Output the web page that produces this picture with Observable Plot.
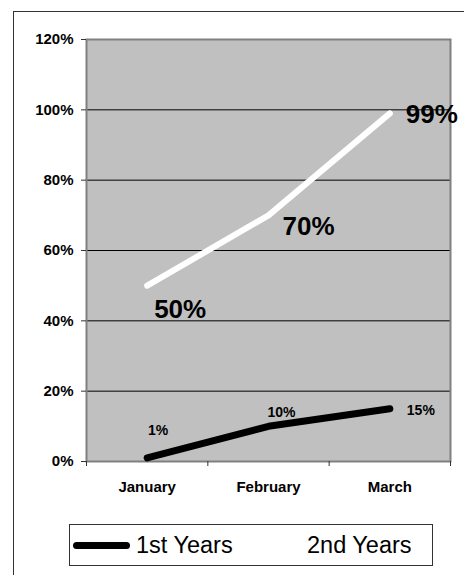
<!DOCTYPE html>
<html>
<head>
<meta charset="utf-8">
<script src="https://cdn.jsdelivr.net/npm/d3@7"></script>
<script src="https://cdn.jsdelivr.net/npm/@observablehq/plot@0.6"></script>
<style>
  html, body { margin: 0; padding: 0; background: #fff; overflow: hidden; width: 464px; height: 575px; }
  #wrap { position: relative; width: 464px; height: 575px; overflow: hidden; font-family: "Liberation Sans", Arial, sans-serif; }
  #frame { position: absolute; left: 13px; top: 11px; width: 451px; height: 1px; background: #333; }
  #frameL { position: absolute; left: 13px; top: 11px; width: 1px; height: 564px; background: #333; }
  #chart { position: absolute; left: 0; top: 0; width: 464px; height: 505px; overflow: hidden; }
  #chart svg { background: transparent; display: block; }
  #legend { position: absolute; left: 69px; top: 524px; width: 364px; height: 42px; border: 1px solid #333; box-sizing: border-box; background: #fff; }
  .item { position: absolute; top: 0; height: 40px; display: flex; align-items: center; font-size: 23.5px; color: #000; white-space: nowrap; }
  .sw { display: inline-block; width: 57px; height: 7px; border-radius: 4px; margin-right: 6px; }
</style>
</head>
<body>
<div id="wrap">
  <div id="frame"></div>
  <div id="frameL"></div>
  <div id="chart"></div>
  <div id="legend"></div>
</div>
<script>
const months = ["January", "February", "March"];
const firstYears = [0.01, 0.10, 0.15];
const secondYears = [0.50, 0.70, 0.99];
const yTicks = [0, 0.2, 0.4, 0.6, 0.8, 1.0, 1.2];
const gridValues = [0.2, 0.4, 0.6, 0.8, 1.0];
const seriesNames = ["1st Years", "2nd Years"];
const seriesColors = ["#000000", "#ffffff"];

const rows = months.map((m, i) => ({ month: m, pos: i + 0.5, first: firstYears[i], second: secondYears[i] }));
const pct = d3.format(".0%");

// label offsets (style only)
const firstOffsets = [[11, -27], [13, -14], [31, 2]];
const secondOffsets = [[33, 24], [40, 11], [42, 1]];

const labelMarks = [];
rows.forEach((r, i) => {
  labelMarks.push(Plot.text([r], { x: "pos", y: "first", text: d => pct(d.first), dx: firstOffsets[i][0], dy: firstOffsets[i][1], fontSize: 14, fontWeight: "bold", fill: "#000" }));
  labelMarks.push(Plot.text([r], { x: "pos", y: "second", text: d => pct(d.second), dx: secondOffsets[i][0], dy: secondOffsets[i][1], fontSize: 26, fontWeight: "bold", fill: "#000" }));
});

const plot = Plot.plot({
  width: 464,
  height: 505,
  marginLeft: 86,
  marginRight: 14,
  marginTop: 39,
  marginBottom: 44,
  style: { fontFamily: "Liberation Sans, Arial, sans-serif", fontSize: "15px", color: "#000", background: "transparent" },
  x: { domain: [0, months.length] },
  y: { domain: [0, 1.2] },
  marks: [
    Plot.frame({ fill: "#c0c0c0", stroke: null }),
    Plot.ruleY(gridValues, { stroke: "#000", strokeWidth: 1 }),
    Plot.frame({ stroke: "#808080", strokeWidth: 2, fill: null }),
    Plot.axisY({ ticks: yTicks, tickFormat: pct, tickSize: 5, tickPadding: 8, fontSize: 15, fontWeight: "bold", stroke: "#333", fill: "#000", label: null }),
    Plot.axisX({ ticks: d3.range(months.length + 1), tickFormat: () => "", tickSize: 5, stroke: "#333", label: null }),
    Plot.axisX({ ticks: rows.map(r => r.pos), tickFormat: v => months[Math.floor(v)], tickSize: 0, tickPadding: 20, fontSize: 15, fontWeight: "bold", fill: "#000", label: null }),
    Plot.line(rows, { x: "pos", y: "second", stroke: seriesColors[1], strokeWidth: 6, strokeLinecap: "round", strokeLinejoin: "round" }),
    Plot.line(rows, { x: "pos", y: "first", stroke: seriesColors[0], strokeWidth: 7, strokeLinecap: "round", strokeLinejoin: "round" }),
    ...labelMarks
  ]
});
document.getElementById("chart").appendChild(plot);

// legend
const legend = document.getElementById("legend");
const itemLefts = [3, 174];
seriesNames.forEach((name, i) => {
  const it = document.createElement("div");
  it.className = "item";
  it.style.left = itemLefts[i] + "px";
  const sw = document.createElement("span");
  sw.className = "sw";
  sw.style.background = seriesColors[i];
  it.appendChild(sw);
  it.appendChild(document.createTextNode(name));
  legend.appendChild(it);
});
</script>
</body>
</html>
